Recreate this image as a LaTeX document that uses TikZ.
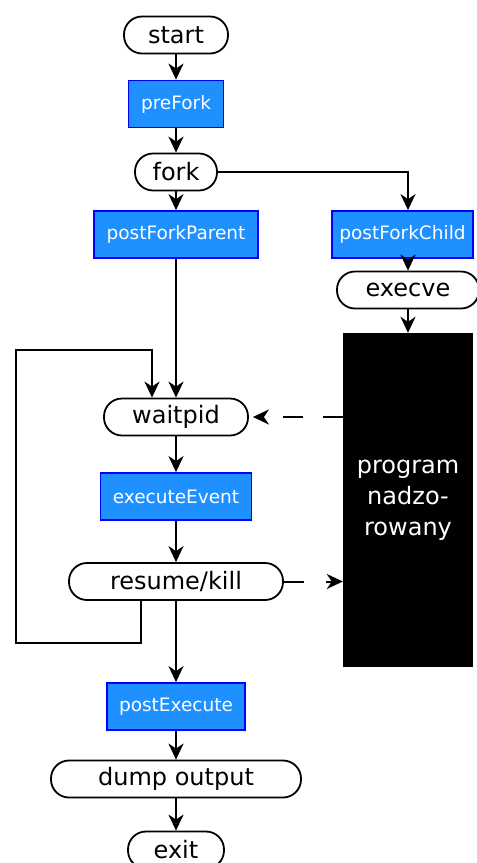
\documentclass[tikz,border=0pt]{standalone}
\usepackage{fontspec}
\setmainfont{DejaVu Sans}
\usetikzlibrary{arrows.meta}
\definecolor{boxblue}{HTML}{1E90FF}
\definecolor{boxedge}{HTML}{0000FF}
\tikzset{
  term/.style={draw=black, line width=1.8pt, fill=white, rounded corners=18pt,
    minimum height=37pt, inner sep=0pt, font=\fontsize{24}{28}\selectfont},
  hook/.style={draw=boxedge, line width=1.8pt, fill=boxblue, minimum height=47pt,
    inner sep=0pt, text=white, font=\fontsize{18.5}{22}\selectfont},
  arr/.style={line width=2pt, -{Stealth[length=16pt,width=15pt,inset=5pt]}},
  dsh/.style={arr, dash pattern=on 20pt off 20pt}
}
\begin{document}
\begin{tikzpicture}[x=1pt,y=-1pt]
\useasboundingbox[fill=white] (0,0) rectangle (477,863);
\node[term, minimum width=104pt] (start) at (176,35) {start};
\node[hook, minimum width=95pt] (prefork) at (176,104) {preFork};
\node[term, minimum width=82pt] (fork) at (176,172) {fork};
\node[hook, minimum width=164pt] (pfp) at (176,234.5) {postForkParent};
\node[hook, minimum width=141pt] (pfc) at (402.5,234.5) {postForkChild};
\node[term, minimum width=142pt] (execve) at (408,290) {execve};
\node[fill=black, minimum width=130pt, minimum height=334pt, inner sep=0pt,
  text=white, align=center, font=\fontsize{24}{31}\selectfont] (prog) at (408,500)
  {program\\nadzo-\\rowany};
\node[term, minimum width=144pt] (waitpid) at (176,417) {waitpid};
\node[hook, minimum width=151pt] (exev) at (176,496.5) {executeEvent};
\node[term, minimum width=214pt] (resume) at (176,581.5) {resume/kill};
\node[hook, minimum width=138pt] (post) at (176,706.5) {postExecute};
\node[term, minimum width=250pt] (dump) at (176,779) {dump output};
\node[term, minimum width=96pt] (exit) at (176,850) {exit};
\coordinate (l1) at (141,643);
\coordinate (l2) at (16,643);
\coordinate (l3) at (16,350);
\coordinate (l4) at (152,350);
\draw[arr] (start) -- (prefork);
\draw[arr] (prefork) -- (fork);
\draw[arr] (fork) -- (pfp);
\draw[arr] (pfp) -- (waitpid);
\draw[arr] (fork.east) -| (pfc.north -| execve);
\draw[arr] (pfc.south -| execve) -- (execve);
\draw[arr] (execve) -- (prog.north -| execve);
\draw[arr] (waitpid) -- (exev);
\draw[arr] (exev) -- (resume);
\draw[arr] (resume) -- (post);
\draw[arr] (post) -- (dump);
\draw[arr] (dump) -- (exit);
\draw[arr] (resume.south -| l1) -- (l1) -- (l2) -- (l3) -- (l4) -- (waitpid.north -| l4);
\draw[dsh] (prog.west |- waitpid) -- ([xshift=4pt]waitpid.east);
\draw[arr, dash pattern=on 20pt off 22pt] (resume.east) -- (prog.west |- resume);
\end{tikzpicture}
\end{document}
